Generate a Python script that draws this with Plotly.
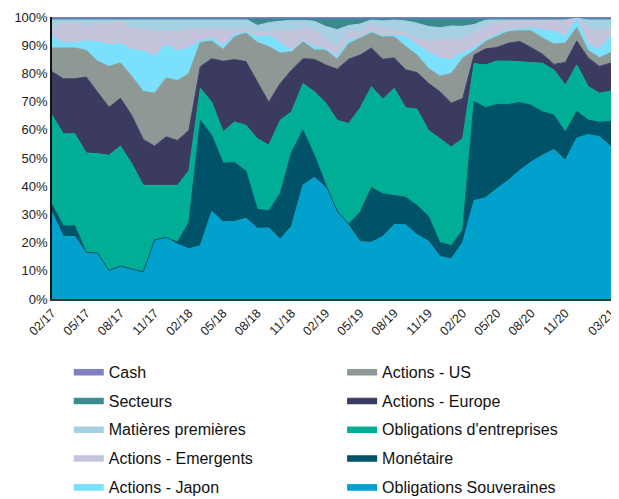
import plotly.graph_objects as go

months = ["02/17","03/17","04/17","05/17","06/17","07/17","08/17","09/17","10/17","11/17","12/17",
          "01/18","02/18","03/18","04/18","05/18","06/18","07/18","08/18","09/18","10/18","11/18","12/18",
          "01/19","02/19","03/19","04/19","05/19","06/19","07/19","08/19","09/19","10/19","11/19","12/19",
          "01/20","02/20","03/20","04/20","05/20","06/20","07/20","08/20","09/20","10/20","11/20","12/20",
          "01/21","02/21","03/21"]
tick_labels = ["02/17","05/17","08/17","11/17","02/18","05/18","08/18","11/18","02/19","05/19",
               "08/19","11/19","02/20","05/20","08/20","11/20","03/21"]
y_ticks = [0, 10, 20, 30, 40, 50, 60, 70, 80, 90, 100]

souveraines = [30.6,22.2,22.2,16.2,16.3,10.1,11.7,10.6,9.6,21.0,21.8,19.4,17.8,18.9,31.0,27.4,27.5,28.6,25.1,25.2,
               21.2,25.8,40.4,43.1,39.5,31.2,26.1,20.3,20.1,22.2,26.4,26.3,22.8,20.5,15.1,14.2,20.1,34.9,35.9,39.1,
               42.1,45.6,48.6,51.0,53.0,49.2,57.1,58.3,57.5,53.9]
monetaire = [2.9,3.7,3.7,0.4,0,0,0,0,0,0,0,0.8,9.4,44.5,27.1,20.8,20.9,16.8,6.7,6.1,
             16.1,26.3,19.5,7.9,1.0,0,0.5,10.5,19.4,15.1,10.2,9.8,10.4,8.8,4.9,4.8,4.3,35.1,32.0,29.9,
             26.9,24.1,20.1,15.4,12.2,10.0,9.5,5.1,5.1,9.1]
oblig_entreprises = [31.7,32.7,32.7,35.2,35.2,40.9,42.5,37.4,30.7,19.3,18.5,20.1,18.3,11.3,11.8,11.1,14.4,16.2,25.1,23.2,
                     26.1,14.3,16.5,22.5,29.0,32.2,35.6,36.8,35.8,33.6,38.1,31.7,34.1,30.5,36.9,34.9,32.5,13.5,15.1,15.4,
                     15.4,14.5,15.2,17.2,16.0,16.7,16.4,11.9,10.3,10.7]
actions_europe = [15.4,19.5,19.5,26.9,21.8,17.0,17.0,17.0,16.3,13.9,17.2,15.9,14.3,7.7,15.3,25.0,22.1,22.6,20.1,15.3,
                  13.0,14.8,8.8,11.5,13.5,18.1,22.8,18.9,13.7,14.1,10.8,13.5,13.0,16.7,16.6,15.6,14.2,3.0,5.7,4.8,
                  6.3,7.1,5.3,3.2,2.0,8.0,8.5,10.1,9.5,9.9]
actions_us = [8.4,10.9,10.9,9.5,11.0,14.5,12.5,13.9,17.0,18.8,20.9,21.2,20.2,8.6,6.3,4.2,8.1,10.1,14.0,19.7,
              10.8,6.5,6.1,3.3,5.3,3.5,5.5,6.0,5.5,8.0,7.5,8.2,6.2,5.3,5.5,10.5,14.3,1.5,2.6,3.9,
              4.2,3.8,5.9,5.7,7.2,6.8,4.8,2.6,3.1,3.7]
actions_japon = [4.1,1.8,1.8,3.3,6.9,7.7,6.9,9.6,14.3,13.3,11.8,10.6,9.2,0.5,1.0,1.3,0.8,0.3,2.0,4.0,
                 3.8,0.3,0.2,1.2,0.2,1.0,1.3,0.3,0.3,0.3,0.5,3.6,3.6,5.7,6.5,5.0,1.9,1.0,0.7,0.7,
                 0.4,0.5,1.0,3.0,4.6,2.5,3.0,2.2,2.9,5.9]
actions_emergents = [2.9,7.2,7.1,5.2,6.5,7.5,8.2,7.7,7.9,8.6,4.7,6.9,6.4,4.5,3.3,5.7,1.7,1.4,1.5,1.0,
                     4.5,7.0,5.0,6.0,3.5,3.5,3.6,1.7,2.4,2.7,1.9,1.1,2.4,3.9,6.5,7.2,4.9,5.4,4.7,4.1,
                     3.2,3.3,2.8,3.4,3.8,5.3,0.7,5.9,6.6,2.3]
matieres_premieres = [3.3,1.3,1.4,2.6,1.6,1.6,0.5,3.1,3.5,4.4,4.4,4.4,3.7,3.3,3.5,3.8,3.8,3.3,2.5,3.5,
                      3.0,3.8,2.3,3.0,4.6,6.0,1.6,3.0,1.8,2.6,3.6,4.4,5.3,5.2,4.2,4.6,4.5,2.9,2.2,1.4,
                      0.8,0.4,0.4,0.4,0.5,0.8,0,3.1,4.2,3.7]
secteurs = [0,0,0,0,0,0,0,0,0,0,0,0,0,0,0,0,0,0,2.3,1.3,
            0.8,0.5,0.5,0.8,2.7,3.8,2.3,1.8,0.3,0.7,0.3,0.7,1.5,2.7,3.1,2.5,2.6,2.0,0.4,0,
            0,0,0,0,0,0,0,0,0,0]
cash = [0.7]*46 + [0, 0.7, 0.7, 0.7]

# (name, values, colour, legend, rank within legend)
series = [
    ("Obligations Souveraines", souveraines, "#00a1cc", "legend2", 5),
    ("Monétaire", monetaire, "#005268", "legend2", 4),
    ("Obligations d'entreprises", oblig_entreprises, "#00ae96", "legend2", 3),
    ("Actions - Europe", actions_europe, "#3b3b61", "legend2", 2),
    ("Actions - US", actions_us, "#8e9894", "legend2", 1),
    ("Actions - Japon", actions_japon, "#7ae0fb", "legend", 5),
    ("Actions - Emergents", actions_emergents, "#c4c4dd", "legend", 4),
    ("Matières premières", matieres_premieres, "#a6d0e4", "legend", 3),
    ("Secteurs", secteurs, "#3a8a8f", "legend", 2),
    ("Cash", cash, "#7f7fc4", "legend", 1),
]

fig = go.Figure()
for name, vals, color, lg, rank in series:
    fig.add_trace(go.Scatter(
        x=months, y=vals, name=name, mode="lines",
        stackgroup="one", groupnorm="percent",
        line=dict(color=color, width=1), fillcolor=color,
        legend=lg, legendgroup=name, legendrank=rank,
    ))

font_family = "Liberation Sans, Arial, sans-serif"
legend_common = dict(
    orientation="v", xanchor="left", yanchor="top",
    font=dict(size=16, family=font_family, color="#111"),
    traceorder="grouped", tracegroupgap=5,
    bgcolor="rgba(0,0,0,0)", maxheight=400,
)

# the page body has an 8px margin, so the figure is sized to sit inside the window
fig.update_layout(
    width=611, height=491,
    margin=dict(l=44, r=8, t=9, b=200, autoexpand=False),
    paper_bgcolor="white", plot_bgcolor="white",
    font=dict(family=font_family, size=12, color="#222"),
    showlegend=True,
    legend=dict(x=0.03, y=-0.197, **legend_common),
    legend2=dict(x=0.519, y=-0.197, **legend_common),
    xaxis=dict(
        type="category", range=[0, len(months) - 1], automargin=False,
        tickmode="array", tickvals=tick_labels, ticktext=tick_labels,
        tickangle=-45, showgrid=False, zeroline=False,
        showline=True, linecolor="#333", linewidth=2, ticks="",
        tickfont=dict(size=12.5, color="#222"),
    ),
    yaxis=dict(
        range=[0, 100], tickmode="array", automargin=False,
        tickvals=y_ticks, ticktext=[f"{v}%" for v in y_ticks],
        showgrid=False, zeroline=False,
        showline=True, linecolor="#111", linewidth=1.5, ticks="",
        tickfont=dict(size=13, color="#222"),
    ),
)

fig.write_html("out.html")
